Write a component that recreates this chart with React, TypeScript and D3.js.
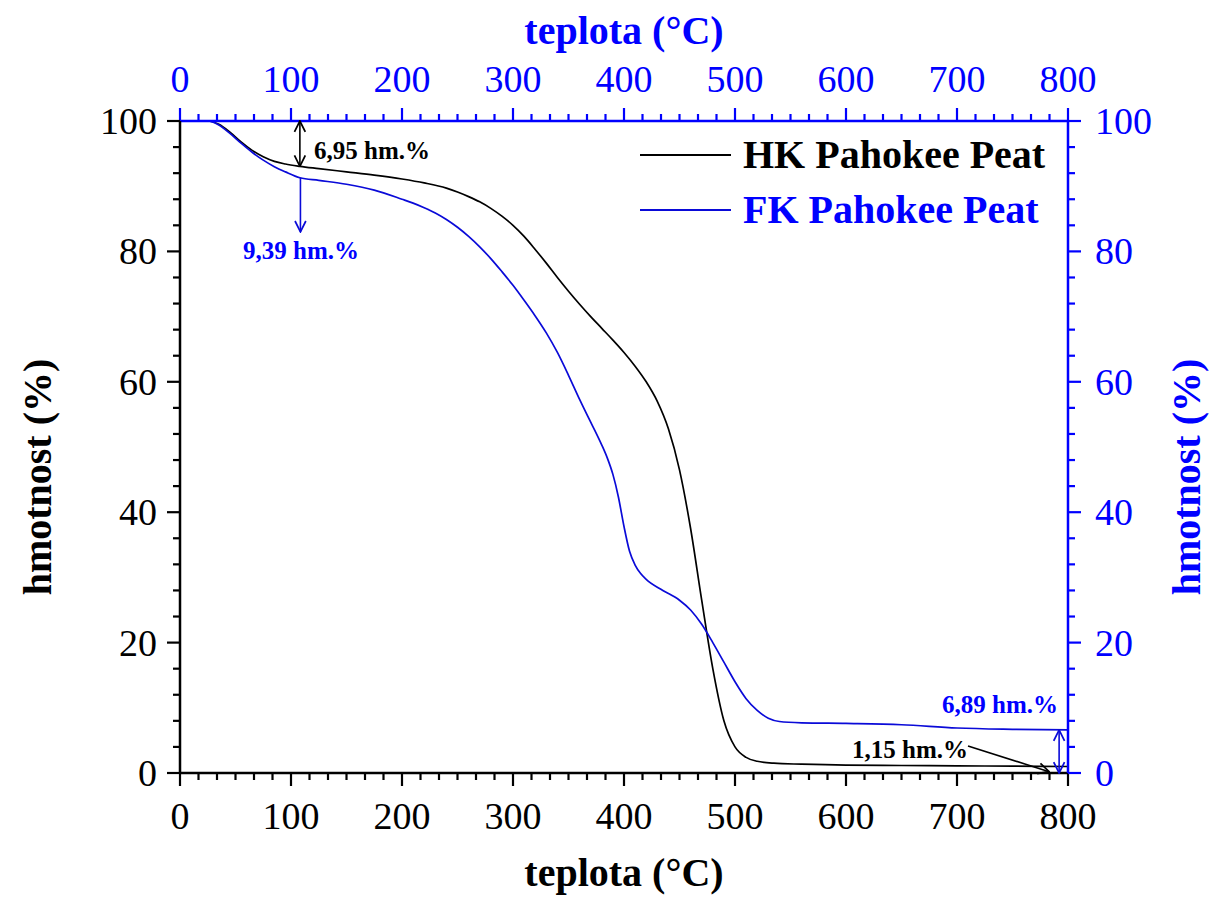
import React from "react";
import * as d3 from "d3";

const hkTemp = [0, 25, 35, 45, 55, 65, 75, 85, 95, 108, 125, 150, 175, 200, 220, 240, 250, 260, 270, 280, 290, 300, 310, 320, 330, 340, 350, 360, 370, 380, 390, 400, 410, 420, 430, 440, 450, 460, 470, 480, 490, 500, 510, 520, 535, 560, 600, 650, 700, 750, 800];
const hkMass = [100, 100, 99.5, 98.3, 96.8, 95.5, 94.5, 93.8, 93.4, 93.05, 92.7, 92.2, 91.7, 91.1, 90.5, 89.7, 89.1, 88.4, 87.6, 86.6, 85.4, 84.0, 82.3, 80.3, 78.2, 76.0, 73.9, 71.9, 70.0, 68.2, 66.4, 64.5, 62.4, 60.0, 57.0, 52.8, 46.5, 37.5, 26.5, 16.0, 8.0, 4.0, 2.4, 1.8, 1.5, 1.35, 1.2, 1.15, 1.1, 1.05, 1.0];

const fkTemp = [0, 25, 35, 45, 55, 65, 75, 85, 95, 108, 125, 150, 175, 200, 210, 220, 230, 240, 250, 260, 270, 280, 290, 300, 310, 320, 330, 340, 350, 360, 370, 375, 380, 385, 390, 395, 400, 405, 410, 415, 420, 435, 450, 460, 470, 480, 490, 500, 510, 520, 530, 540, 560, 600, 650, 700, 750, 800];
const fkMass = [100, 100, 99.4, 98.1, 96.6, 95.2, 94.0, 93.0, 92.2, 91.3, 90.9, 90.3, 89.4, 88.0, 87.4, 86.7, 85.9, 84.9, 83.7, 82.3, 80.7, 78.9, 76.9, 74.8, 72.5, 70.1, 67.5, 64.5, 61.0, 57.3, 53.8, 52.1, 50.3, 48.3, 45.8, 42.3, 37.8, 34.0, 31.9, 30.6, 29.7, 28.0, 26.5, 25.0, 22.8, 20.0, 17.0, 14.0, 11.4, 9.6, 8.4, 7.9, 7.7, 7.6, 7.4, 6.9, 6.7, 6.6];

const xTicks = [0, 100, 200, 300, 400, 500, 600, 700, 800];
const yTicks = [0, 20, 40, 60, 80, 100];
const seriesNames = ["HK Pahokee Peat", "FK Pahokee Peat"];
const annotations = ["6,95 hm.%", "9,39 hm.%", "6,89 hm.%", "1,15 hm.%"];
const xTitle = "teplota (°C)";
const yTitle = "hmotnost (%)";

const BLUE = "#0000ff";
const CURVE_BLUE = "#0a0ad8";
const FONT = "'Liberation Serif', 'Times New Roman', serif";

export default function App() {
  const W = 1213, H = 907;
  const L = 180, R = 1068, T = 121, B = 773;
  const x = d3.scaleLinear().domain([0, 800]).range([L, R]);
  const y = d3.scaleLinear().domain([0, 100]).range([B, T]);

  const line = d3.line<[number, number]>().x(d => x(d[0])).y(d => y(d[1])).curve(d3.curveMonotoneX);
  const hkPath = line(hkTemp.map((t, i) => [t, hkMass[i]]) as [number, number][]) || "";
  const fkPath = line(fkTemp.map((t, i) => [t, fkMass[i]]) as [number, number][]) || "";

  const xMinor: number[] = [];
  for (let i = 0; i < 8; i++) for (let k = 1; k < 6; k++) xMinor.push(i * 100 + (k * 100) / 6);
  const yMinor: number[] = [];
  for (let i = 0; i < 5; i++) for (let k = 1; k < 5; k++) yMinor.push(i * 20 + k * 4);

  const MAJ = 13, MIN = 7;
  const tickW = 2.2;
  const annFs = 25;

  return (
    <svg width={W} height={H} style={{ position: "absolute", left: 0, top: 0, background: "#fff" }} fontFamily={FONT}>
      <defs>
        <marker id="ahK" viewBox="0 0 12 12" refX="11" refY="6" markerWidth="13" markerHeight="13" markerUnits="userSpaceOnUse" orient="auto-start-reverse">
          <path d="M1,1 L11,6 L1,11" fill="none" stroke="#000" strokeWidth="1.6" />
        </marker>
        <marker id="ahB" viewBox="0 0 12 12" refX="11" refY="6" markerWidth="13" markerHeight="13" markerUnits="userSpaceOnUse" orient="auto-start-reverse">
          <path d="M1,1 L11,6 L1,11" fill="none" stroke={CURVE_BLUE} strokeWidth="1.6" />
        </marker>
      </defs>
      <rect x={0} y={0} width={W} height={H} fill="#fff" />

      {/* curves */}
      <path d={hkPath} fill="none" stroke="#000" strokeWidth={1.7} />
      <path d={fkPath} fill="none" stroke={CURVE_BLUE} strokeWidth={1.7} />

      {/* bottom axis */}
      <line x1={L} x2={R} y1={B} y2={B} stroke="#000" strokeWidth={2.5} />
      {xTicks.map(t => (
        <g key={"bx" + t}>
          <line x1={x(t)} x2={x(t)} y1={B} y2={B + MAJ} stroke="#000" strokeWidth={tickW} />
          <text x={x(t)} y={829} textAnchor="middle" fontSize={38} fill="#000">{t}</text>
        </g>
      ))}
      {xMinor.map((t, i) => (
        <line key={"bm" + i} x1={x(t)} x2={x(t)} y1={B} y2={B + MIN} stroke="#000" strokeWidth={tickW} />
      ))}
      <text x={(L + R) / 2} y={886} textAnchor="middle" fontSize={40} fontWeight="bold" fill="#000">{xTitle}</text>

      {/* top axis */}
      <line x1={L} x2={R} y1={T} y2={T} stroke={BLUE} strokeWidth={2.5} />
      {xTicks.map(t => (
        <g key={"tx" + t}>
          <line x1={x(t)} x2={x(t)} y1={T} y2={T - MAJ} stroke={BLUE} strokeWidth={tickW} />
          <text x={x(t)} y={92} textAnchor="middle" fontSize={38} fill={BLUE}>{t}</text>
        </g>
      ))}
      {xMinor.map((t, i) => (
        <line key={"tm" + i} x1={x(t)} x2={x(t)} y1={T} y2={T - MIN} stroke={BLUE} strokeWidth={tickW} />
      ))}
      <text x={(L + R) / 2} y={44} textAnchor="middle" fontSize={40} fontWeight="bold" fill={BLUE}>{xTitle}</text>

      {/* left axis */}
      <line x1={L} x2={L} y1={T} y2={B} stroke="#000" strokeWidth={2.5} />
      {yTicks.map(t => (
        <g key={"ly" + t}>
          <line x1={L} x2={L - MAJ} y1={y(t)} y2={y(t)} stroke="#000" strokeWidth={tickW} />
          <text x={157} y={y(t) + 13} textAnchor="end" fontSize={38} fill="#000">{t}</text>
        </g>
      ))}
      {yMinor.map((t, i) => (
        <line key={"lm" + i} x1={L} x2={L - MIN} y1={y(t)} y2={y(t)} stroke="#000" strokeWidth={tickW} />
      ))}
      <text transform={`translate(51, ${(T + B) / 2 + 30}) rotate(-90)`} textAnchor="middle" fontSize={40} fontWeight="bold" fill="#000">{yTitle}</text>

      {/* right axis */}
      <line x1={R} x2={R} y1={T} y2={B} stroke={BLUE} strokeWidth={2.5} />
      {yTicks.map(t => (
        <g key={"ry" + t}>
          <line x1={R} x2={R + MAJ} y1={y(t)} y2={y(t)} stroke={BLUE} strokeWidth={tickW} />
          <text x={1095} y={y(t) + 13} textAnchor="start" fontSize={38} fill={BLUE}>{t}</text>
        </g>
      ))}
      {yMinor.map((t, i) => (
        <line key={"rm" + i} x1={R} x2={R + MIN} y1={y(t)} y2={y(t)} stroke={BLUE} strokeWidth={tickW} />
      ))}
      <text transform={`translate(1200, ${(T + B) / 2 + 30}) rotate(-90)`} textAnchor="middle" fontSize={40} fontWeight="bold" fill={BLUE}>{yTitle}</text>

      {/* legend */}
      <line x1={640} x2={731} y1={155} y2={155} stroke="#000" strokeWidth={1.8} />
      <text x={743} y={168} fontSize={40} fontWeight="bold" fill="#000">{seriesNames[0]}</text>
      <line x1={640} x2={731} y1={210} y2={210} stroke={CURVE_BLUE} strokeWidth={1.8} />
      <text x={743} y={223} fontSize={40} fontWeight="bold" fill={BLUE}>{seriesNames[1]}</text>

      {/* annotations */}
      <line x1={x(108)} x2={x(108)} y1={y(100)} y2={y(93.05)} stroke="#000" strokeWidth={1.6} markerStart="url(#ahK)" markerEnd="url(#ahK)" />
      <text x={314} y={159} fontSize={annFs} fontWeight="bold" fill="#000">{annotations[0]}</text>

      <line x1={x(108.5)} x2={x(108.5)} y1={y(91.3)} y2={y(83)} stroke={CURVE_BLUE} strokeWidth={1.6} markerEnd="url(#ahB)" />
      <text x={243} y={259} fontSize={annFs} fontWeight="bold" fill={BLUE}>{annotations[1]}</text>

      <line x1={x(792)} x2={x(792)} y1={y(6.6)} y2={y(0)} stroke={CURVE_BLUE} strokeWidth={1.6} markerStart="url(#ahB)" markerEnd="url(#ahB)" />
      <text x={942} y={713} fontSize={annFs} fontWeight="bold" fill={BLUE}>{annotations[2]}</text>

      <line x1={968} x2={x(783)} y1={746} y2={y(0.2)} stroke="#000" strokeWidth={1.6} markerEnd="url(#ahK)" />
      <text x={852} y={758} fontSize={annFs} fontWeight="bold" fill="#000">{annotations[3]}</text>
    </svg>
  );
}
